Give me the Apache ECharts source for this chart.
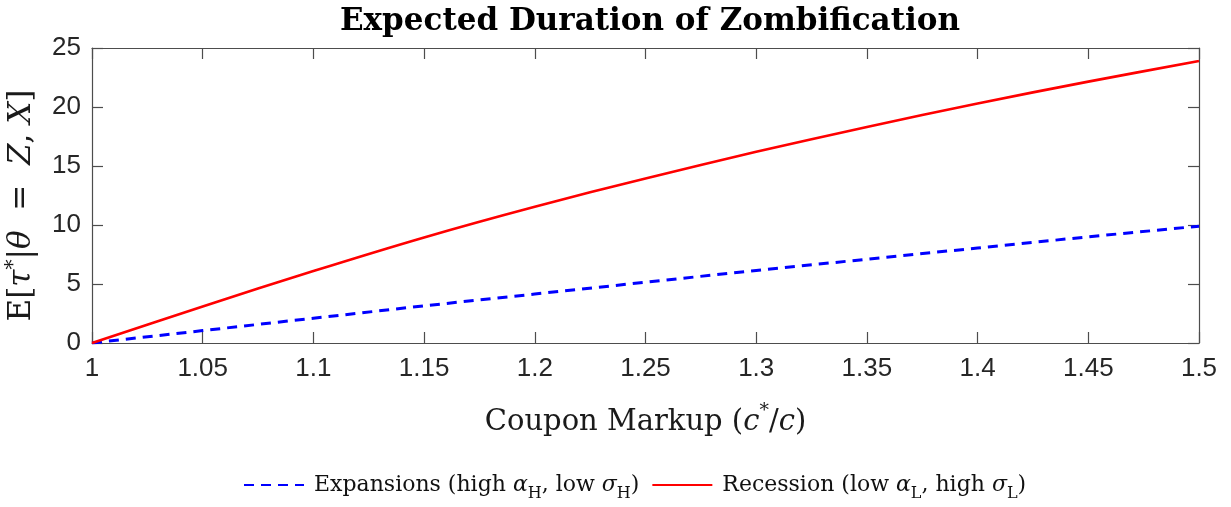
<!DOCTYPE html>
<html>
<head>
<meta charset="utf-8">
<script src="https://cdn.jsdelivr.net/npm/echarts@6/dist/echarts.min.js"></script>
<style>
  html, body { margin: 0; padding: 0; background: #ffffff; }
  #chart { width: 1231px; height: 507px; }
</style>
</head>
<body>
<div id="chart"></div>
<script>
// Coupon markup c*/c on the horizontal axis
const markup = [1.00, 1.05, 1.10, 1.15, 1.20, 1.25, 1.30, 1.35, 1.40, 1.45, 1.50];
// Expected duration of zombification in each regime
const expansions = [0, 1.05, 2.1, 3.15, 4.15, 5.15, 6.15, 7.1, 8.05, 9.0, 9.9];
const recession = [0, 3.1, 6.1, 8.95, 11.55, 13.95, 16.2, 18.3, 20.3, 22.15, 23.9];

const serif = '"DejaVu Serif", "Liberation Serif", serif';
const sans = '"Liberation Sans", Arial, sans-serif';
const axisGrey = '#4d4d4d';
const labelGrey = '#262626';

const legendRich = {
  t: { fontFamily: serif, fontSize: 22, color: '#111', lineHeight: 34 },
  p: { fontFamily: serif, fontSize: 22, color: '#111', lineHeight: 34, padding: [0, 0, 0, 5] },
  g: { fontFamily: serif, fontSize: 22, fontStyle: 'italic', color: '#111', lineHeight: 34 },
  s: { fontFamily: serif, fontSize: 16, color: '#111', lineHeight: 16, verticalAlign: 'bottom' }
};

const boxAxis = {
  axisLine: { show: true, onZero: false, lineStyle: { color: axisGrey, width: 1.2 } },
  axisTick: { show: true, inside: true, length: 11, lineStyle: { color: axisGrey, width: 1.2 } },
  splitLine: { show: false }
};

const chart = echarts.init(document.getElementById('chart'), null, { renderer: 'canvas' });

chart.setOption({
  backgroundColor: '#ffffff',
  animation: false,
  title: {
    text: 'Expected Duration of Zombification',
    left: 645,
    textAlign: 'center',
    top: 1,
    textStyle: { fontFamily: serif, fontWeight: 'bold', fontSize: 31, color: '#000' }
  },
  grid: { left: 92, right: 32, top: 48, bottom: 164, outerBoundsMode: 'none', containLabel: false },
  legend: {
    bottom: 5,
    left: 243,
    padding: 0,
    itemWidth: 60,
    itemHeight: 14,
    itemGap: 12,
    itemStyle: { opacity: 0 },
    data: ['Expansions', 'Recession'],
    formatter: function (name) {
      if (name === 'Expansions') {
        return '{p|Expansions (high }{g|α}{s|H}{t|, low }{g|σ}{s|H}{t|)}';
      }
      return '{p|Recession (low }{g|α}{s|L}{t|, high }{g|σ}{s|L}{t|)}';
    },
    textStyle: { rich: legendRich }
  },
  xAxis: [
    Object.assign({
      type: 'value',
      min: 1,
      max: 1.5,
      interval: 0.05,
      position: 'bottom',
      name: '{t|Coupon Markup (}{i|c}{sup|*}{t|/}{i|c}{t|)}',
      nameLocation: 'middle',
      nameGap: 59,
      nameTextStyle: {
        rich: {
          t: { fontFamily: serif, fontSize: 29, color: '#1a1a1a', lineHeight: 40 },
          i: { fontFamily: serif, fontSize: 29, fontStyle: 'italic', color: '#1a1a1a', lineHeight: 40 },
          sup: { fontFamily: serif, fontSize: 19, color: '#1a1a1a', lineHeight: 20, verticalAlign: 'top' }
        }
      },
      axisLabel: {
        margin: 13,
        fontFamily: sans,
        fontSize: 26,
        color: labelGrey,
        formatter: function (v) { return String(+v.toFixed(2)); }
      }
    }, boxAxis),
    Object.assign({
      type: 'value',
      min: 1,
      max: 1.5,
      interval: 0.05,
      position: 'top',
      axisLabel: { show: false }
    }, boxAxis)
  ],
  yAxis: [
    Object.assign({
      type: 'value',
      min: 0,
      max: 25,
      interval: 5,
      position: 'left',
      name: '{r|E[}{i|τ}{sup|*}{r||}{i|θ}{r|  =  }{i|Z}{r|, }{i|X}{r|]}',
      nameLocation: 'middle',
      nameRotate: 90,
      nameGap: 52,
      nameTextStyle: {
        padding: [0, 20, 0, 0],
        rich: {
          r: { fontFamily: serif, fontSize: 31, color: '#1a1a1a', lineHeight: 36 },
          i: { fontFamily: serif, fontSize: 31, fontStyle: 'italic', color: '#1a1a1a', lineHeight: 36 },
          sup: { fontFamily: serif, fontSize: 20, color: '#1a1a1a', lineHeight: 18, verticalAlign: 'top' }
        }
      },
      axisLabel: { margin: 11, fontFamily: sans, fontSize: 26, color: labelGrey }
    }, boxAxis),
    Object.assign({
      type: 'value',
      min: 0,
      max: 25,
      interval: 5,
      position: 'right',
      axisLabel: { show: false }
    }, boxAxis)
  ],
  series: [
    {
      name: 'Expansions',
      type: 'line',
      xAxisIndex: 0,
      yAxisIndex: 0,
      data: markup.map((x, i) => [x, expansions[i]]),
      symbol: 'none',
      lineStyle: { color: '#0000ff', width: 3, type: [10, 7] },
      itemStyle: { color: '#0000ff' }
    },
    {
      name: 'Recession',
      type: 'line',
      xAxisIndex: 0,
      yAxisIndex: 0,
      data: markup.map((x, i) => [x, recession[i]]),
      symbol: 'none',
      smooth: 0.3,
      lineStyle: { color: '#ff0000', width: 2.6 },
      itemStyle: { color: '#ff0000' }
    }
  ]
});
</script>
</body>
</html>
